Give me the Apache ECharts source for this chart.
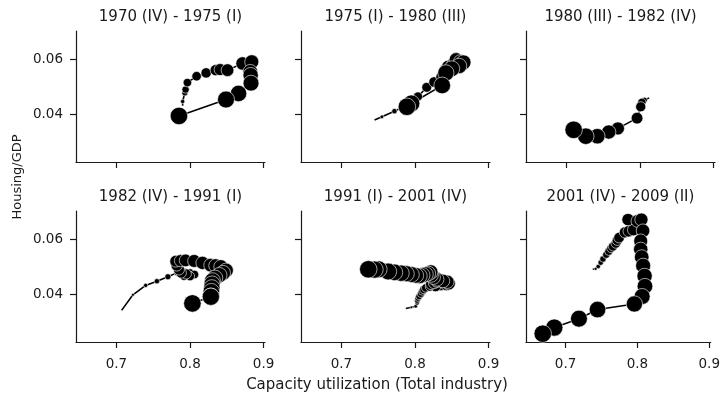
<!DOCTYPE html>
<html>
<head>
<meta charset="utf-8">
<script src="https://cdn.jsdelivr.net/npm/echarts@6/dist/echarts.min.js"></script>
<style>
  html, body { margin: 0; padding: 0; background: #fff; }
  #chart { width: 723px; height: 399px; }
</style>
</head>
<body>
<div id="chart"></div>
<script>
// panel titles (business cycle windows)
let titles = ['1970 (IV) - 1975 (I)', '1975 (I) - 1980 (III)', '1980 (III) - 1982 (IV)',
              '1982 (IV) - 1991 (I)', '1991 (I) - 2001 (IV)', '2001 (IV) - 2009 (II)'];

// capacity utilization (x) and housing/GDP (y), one pair per panel, in time order
let capUtil1 = [0.790, 0.790, 0.793, 0.794, 0.7965, 0.809, 0.822, 0.835, 0.841, 0.851, 0.8715, 0.884, 0.882, 0.8825, 0.883, 0.866, 0.849, 0.785];
let housing1 = [0.0432, 0.0447, 0.0478, 0.0490, 0.0515, 0.0538, 0.0550, 0.0560, 0.0562, 0.0560, 0.0584, 0.0590, 0.0554, 0.0542, 0.0513, 0.0476, 0.0454, 0.0395];

let capUtil2 = [0.745, 0.755, 0.772, 0.782, 0.792, 0.800, 0.804, 0.816, 0.826, 0.836, 0.840, 0.842, 0.845, 0.852, 0.856, 0.862, 0.866, 0.860, 0.850, 0.842, 0.837, 0.795, 0.789];
let housing2 = [0.0380, 0.0392, 0.0412, 0.0425, 0.0440, 0.0452, 0.0465, 0.0498, 0.0517, 0.0535, 0.0548, 0.0562, 0.0572, 0.0580, 0.0598, 0.0590, 0.0588, 0.0575, 0.0565, 0.0550, 0.0505, 0.0440, 0.0428];

let capUtil3 = [0.8125, 0.806, 0.8025, 0.801, 0.796, 0.770, 0.7575, 0.742, 0.7263, 0.7098];
let housing3 = [0.0460, 0.0452, 0.0444, 0.0428, 0.0387, 0.0350, 0.0337, 0.0322, 0.0322, 0.0345];

let capUtil4 = [0.707, 0.7224, 0.7397, 0.755, 0.770, 0.7828, 0.792, 0.800, 0.806, 0.800, 0.792, 0.795, 0.788, 0.785, 0.782, 0.7806, 0.787,
                0.794, 0.8056, 0.817, 0.828, 0.835, 0.842, 0.849, 0.845, 0.840, 0.834, 0.8306, 0.830, 0.8297, 0.829, 0.8284, 0.8284, 0.8033];
let housing4 = [0.0343, 0.0399, 0.0433, 0.0448, 0.0464, 0.0479, 0.0482, 0.0478, 0.0472, 0.0466, 0.0468, 0.0474, 0.0478, 0.0490, 0.0505, 0.0520, 0.0522,
                0.0523, 0.0521, 0.0514, 0.0506, 0.0504, 0.0500, 0.0487, 0.0478, 0.0470, 0.0460, 0.0450, 0.0438, 0.0424, 0.0410, 0.0393, 0.0392, 0.0368];

let capUtil5 = [0.7875, 0.795, 0.801, 0.803, 0.803, 0.804, 0.8055, 0.808, 0.810, 0.812, 0.8146, 0.820, 0.826, 0.832, 0.838, 0.842, 0.835, 0.828, 0.822, 0.826, 0.830, 0.835,
                0.840, 0.843, 0.846, 0.844, 0.838, 0.830, 0.825, 0.822, 0.8214, 0.818, 0.8146, 0.810, 0.806, 0.801, 0.795, 0.788, 0.781, 0.772, 0.7636, 0.7505, 0.745, 0.7365];
let housing5 = [0.0350, 0.0354, 0.0358, 0.0370, 0.0378, 0.0386, 0.0393, 0.0402, 0.0411, 0.0418, 0.0424, 0.0428, 0.0432, 0.0440, 0.0436, 0.0440, 0.0433, 0.0430, 0.0438, 0.0442, 0.0447, 0.0450,
                0.0445, 0.0437, 0.0440, 0.0446, 0.0449, 0.0455, 0.0462, 0.0470, 0.0481, 0.0476, 0.0473, 0.0470, 0.0467, 0.0469, 0.0472, 0.0475, 0.0477, 0.0480, 0.0483, 0.0491, 0.0490, 0.0491];

let capUtil6 = [0.7378, 0.742, 0.7455, 0.749, 0.7521, 0.7566, 0.760, 0.7633, 0.766, 0.770, 0.772, 0.7745, 0.7825, 0.788, 0.7945, 0.787,
                0.800, 0.8056, 0.8078, 0.8046, 0.8046, 0.806, 0.808, 0.810, 0.8105, 0.8066, 0.7958, 0.7445, 0.7187, 0.6844, 0.6683];
let housing6 = [0.0491, 0.0493, 0.0501, 0.0515, 0.0528, 0.0543, 0.0555, 0.0566, 0.0573, 0.0584, 0.0595, 0.0605, 0.0624, 0.0628, 0.0633, 0.0670,
                0.0665, 0.0670, 0.0630, 0.0593, 0.0563, 0.0535, 0.0504, 0.0467, 0.0430, 0.0393, 0.0366, 0.0346, 0.0313, 0.0281, 0.0259];

// axis ticks
let xTicks = [0.7, 0.8, 0.9];
let yTicks = [0.04, 0.06];

let capUtil = [capUtil1, capUtil2, capUtil3, capUtil4, capUtil5, capUtil6];
let housing = [housing1, housing2, housing3, housing4, housing5, housing6];

let chart = echarts.init(document.getElementById('chart'));

let font = 'DejaVu Sans';
let ink = '#1a1a1a';
let lefts = [76, 301, 526];
let tops = [31, 211];
let W = 189, H = 131;

let grids = [], xAxes = [], yAxes = [], series = [], graphics = [];

for (let p = 0; p < 6; p++) {
    let col = p % 3, row = Math.floor(p / 3);
    grids.push({ left: lefts[col], top: tops[row], width: W, height: H });

    xAxes.push({
        type: 'value', gridIndex: p, min: 0.645, max: 0.902,
        axisLine: { onZero: false, lineStyle: { color: ink, width: 1.2 } },
        axisTick: { customValues: xTicks, length: 6, lineStyle: { color: ink, width: 1.2 } },
        axisLabel: {
            show: row === 1, customValues: xTicks, margin: 15,
            color: ink, fontFamily: font, fontSize: 13.5,
            formatter: v => v.toFixed(1)
        },
        splitLine: { show: false }
    });
    yAxes.push({
        type: 'value', gridIndex: p, min: 0.0229, max: 0.0701,
        axisLine: { show: true, onZero: false, lineStyle: { color: ink, width: 1.2 } },
        axisTick: { show: true, customValues: yTicks, length: 6, lineStyle: { color: ink, width: 1.2 } },
        axisLabel: {
            show: col === 0, customValues: yTicks, margin: 13,
            color: ink, fontFamily: font, fontSize: 13.5,
            formatter: v => v.toFixed(2)
        },
        splitLine: { show: false }
    });

    let pts = capUtil[p].map((x, i) => [x, housing[p][i]]);
    let n = pts.length;

    series.push({
        type: 'line', xAxisIndex: p, yAxisIndex: p, data: pts,
        symbol: 'none', silent: true, z: 2,
        lineStyle: { color: '#000', width: 1.6 }
    });
    series.push({
        type: 'scatter', xAxisIndex: p, yAxisIndex: p, data: pts,
        symbol: 'circle', z: 3,
        symbolSize: (v, prm) => Math.max(17.5 * Math.sqrt(prm.dataIndex / (n - 1)), 0.1),
        itemStyle: { color: '#000', borderColor: '#fff', borderWidth: 0.6, opacity: 1 }
    });

    graphics.push({
        type: 'text', x: lefts[col] + W / 2, y: tops[row] - 14,
        style: { text: titles[p], fill: ink, font: '15px "DejaVu Sans"', textAlign: 'center', textVerticalAlign: 'middle' }
    });
}

graphics.push({
    type: 'text', x: 377, y: 385,
    style: { text: 'Capacity utilization (Total industry)', fill: ink, font: '15px "DejaVu Sans"', textAlign: 'center', textVerticalAlign: 'middle' }
});
graphics.push({
    type: 'text', x: 18, y: 177, rotation: Math.PI / 2,
    style: { text: 'Housing/GDP', fill: ink, font: '13px "DejaVu Sans"', textAlign: 'center', textVerticalAlign: 'middle' }
});

let option = {
    animation: false,
    backgroundColor: '#fff',
    grid: grids,
    xAxis: xAxes,
    yAxis: yAxes,
    series: series,
    graphic: graphics
};

chart.setOption(option);
</script>
</body>
</html>
